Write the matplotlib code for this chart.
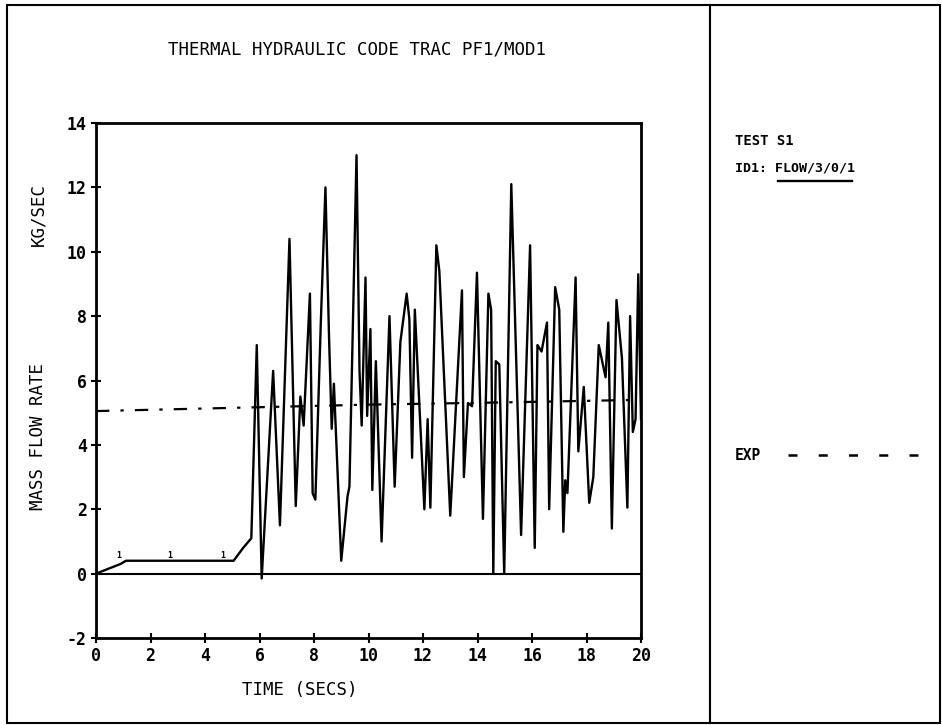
import matplotlib.pyplot as plt
from matplotlib.lines import Line2D
from matplotlib.patches import Rectangle

# TRAC PF1/MOD1 calculation (curve 1), mass flow rate vs time
time = [0, 0.9, 1.1, 2.7, 4.6, 5.05, 5.4, 5.7, 5.9, 6.08, 6.5, 6.75, 7.1, 7.33,
        7.5, 7.62, 7.85, 7.95, 8.05, 8.25, 8.42, 8.55, 8.65, 8.73, 9.0, 9.23,
        9.3, 9.56, 9.67, 9.75, 9.89, 9.95, 10.07, 10.14, 10.27, 10.48, 10.77,
        10.96, 11.17, 11.4, 11.5, 11.6, 11.7, 12.05, 12.17, 12.27, 12.49, 12.6,
        13.0, 13.43, 13.5, 13.65, 13.8, 13.98, 14.2, 14.4, 14.5, 14.58, 14.67,
        14.8, 14.98, 15.24, 15.6, 15.93, 16.1, 16.2, 16.35, 16.55, 16.63, 16.85,
        17.0, 17.15, 17.22, 17.3, 17.6, 17.7, 17.9, 18.1, 18.25, 18.45, 18.7,
        18.8, 18.93, 19.1, 19.3, 19.5, 19.6, 19.7, 19.8, 19.9, 20.0]
flow = [0, 0.3, 0.4, 0.4, 0.4, 0.4, 0.8, 1.1, 7.1, -0.15, 6.3, 1.5, 10.4, 2.1,
        5.5, 4.6, 8.7, 2.5, 2.3, 7.8, 12.0, 7.4, 4.5, 5.9, 0.4, 2.4,
        2.7, 13.0, 6.3, 4.6, 9.2, 4.9, 7.6, 2.6, 6.6, 1.0, 8.0,
        2.7, 7.2, 8.7, 7.9, 3.6, 8.2, 2.0, 4.8, 2.05, 10.2, 9.4,
        1.8, 8.8, 3.0, 5.3, 5.2, 9.35, 1.7, 8.7, 8.2, 0.0, 6.6,
        6.5, 0.0, 12.1, 1.2, 10.2, 0.8, 7.1, 6.9, 7.8, 2.0, 8.9,
        8.2, 1.3, 2.9, 2.5, 9.2, 3.8, 5.8, 2.2, 3.0, 7.1, 6.1,
        7.8, 1.4, 8.5, 6.7, 2.05, 8.0, 4.4, 4.8, 9.3, 4.8]

# experiment (EXP)
exp_time = [0, 5, 10, 15, 20]
exp_flow = [5.05, 5.15, 5.25, 5.32, 5.4]

label_times = [0.85, 2.7, 4.65]
xticks = list(range(0, 21, 2))
yticks = list(range(-2, 15, 2))

plt.rcParams["font.family"] = "DejaVu Sans Mono"
plt.rcParams["font.weight"] = "bold"
plt.rcParams["axes.unicode_minus"] = False

fig = plt.figure(figsize=(9.42, 7.25), dpi=100)
ax = fig.add_axes([96 / 942, 1 - 638 / 725, 545 / 942, 515 / 725])

ax.plot(time, flow, color="black", lw=1.7)
ax.plot(exp_time, exp_flow, color="black", lw=1.6,
        linestyle=(0, (6, 5, 1.5, 5)))
ax.axhline(0, color="black", lw=1.5)
for t in label_times:
    ax.text(t, 0.42, "1", fontsize=6, ha="center", va="bottom")

ax.set_xlim(0, 20)
ax.set_ylim(-2, 14)
ax.set_xticks(xticks)
ax.set_yticks(yticks)
ax.tick_params(direction="inout", length=7, width=1.5, labelsize=12, pad=3)
for s in ax.spines.values():
    s.set_linewidth(2)

fig.text(357 / 942, 1 - 50 / 725, "THERMAL HYDRAULIC CODE TRAC PF1/MOD1",
         ha="center", va="center", fontsize=12.5, weight="normal")
fig.text(300 / 942, 1 - 690 / 725, "TIME (SECS)", ha="center", va="center",
         fontsize=12.5, weight="normal")
fig.text(38 / 942, 1 - 437 / 725, "MASS FLOW RATE", rotation=90,
         ha="center", va="center", fontsize=12.5, weight="normal")
fig.text(38 / 942, 1 - 215 / 725, "KG/SEC", rotation=90,
         ha="center", va="center", fontsize=12.5, weight="normal")

# right-hand panel
fig.text(735 / 942, 1 - 141 / 725, "TEST S1", ha="left", va="center",
         fontsize=10)
fig.text(735 / 942, 1 - 168 / 725, "ID1: FLOW/3/0/1", ha="left",
         va="center", fontsize=9.5)
fig.add_artist(Line2D([778 / 942, 852 / 942], [1 - 181 / 725, 1 - 181 / 725],
                      color="black", lw=1.7))
fig.text(735 / 942, 1 - 455 / 725, "EXP", ha="left", va="center",
         fontsize=10.5)
fig.add_artist(Line2D([788 / 942, 920 / 942], [1 - 455 / 725, 1 - 455 / 725],
                      color="black", lw=1.8, linestyle=(0, (3.6, 8.5))))

# frame and divider
fig.add_artist(Rectangle((7 / 942, 2 / 725), 933 / 942, 718 / 725,
                         fill=False, edgecolor="black", lw=1.5))
fig.add_artist(Line2D([710 / 942, 710 / 942], [2 / 725, 1 - 5 / 725],
                      color="black", lw=1.5))

fig.savefig("out.png", dpi=100)
